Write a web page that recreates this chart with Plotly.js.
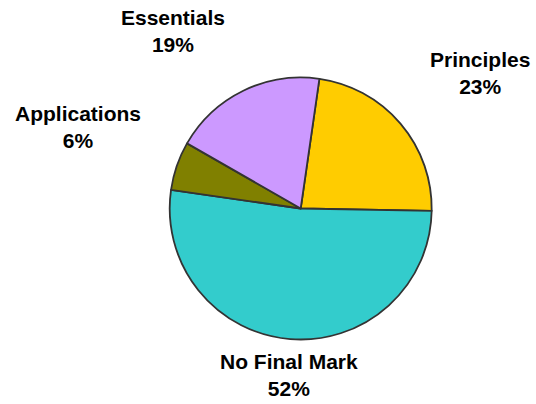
<!DOCTYPE html>
<html>
<head>
<meta charset="utf-8">
<script src="https://cdn.plot.ly/plotly-3.0.1.min.js"></script>
<style>html,body{margin:0;padding:0;background:#fff;}#chart{width:536px;height:404px;}</style>
</head>
<body>
<div id="chart"></div>
<script>
var categories = ["Principles", "No Final Mark", "Applications", "Essentials"];
var values = [23, 52, 6, 19];
var colors = ["#FFCC00", "#33CCCC", "#808000", "#CC99FF"];

var W = 536, H = 404;
var cx = 300.7, cy = 208.5, R = 131;   // pie centre and radius in px
var rotation = 8.2;
var font = {family: "Liberation Sans, Arial, sans-serif", size: 21, color: "#000", weight: "bold"};

var total = values.reduce(function(a, b){ return a + b; }, 0);
var annotations = [];
var cum = 0;
for (var i = 0; i < values.length; i++) {
  var frac = values[i] / total;
  var mid = (rotation + (cum + frac / 2) * 360) * Math.PI / 180;
  cum += frac;
  var s = Math.sin(mid), c = Math.cos(mid);
  var xa = s > 0.25 ? "left" : (s < -0.25 ? "right" : "center");
  var ya = c > 0.25 ? "bottom" : (c < -0.25 ? "top" : "middle");
  var corner = (xa !== "center" && ya !== "middle");
  var d = R + (corner ? 36 : 9);
  var px = cx + d * s, py = cy - d * c;
  annotations.push({
    xref: "paper", yref: "paper",
    x: px / W, y: 1 - py / H,
    xanchor: xa, yanchor: ya,
    text: categories[i] + "<br>" + Math.round(frac * 100) + "%",
    showarrow: false, font: font, align: "center"
  });
}

var trace = {
  type: "pie",
  labels: categories,
  values: values,
  sort: false,
  direction: "clockwise",
  rotation: rotation,
  textinfo: "none",
  hoverinfo: "label+percent",
  marker: {colors: colors, line: {color: "#333", width: 1.8}},
  domain: {x: [(cx - R) / W, (cx + R) / W], y: [(H - cy - R) / H, (H - cy + R) / H]}
};

var layout = {
  width: W, height: H,
  margin: {l: 0, r: 0, t: 0, b: 0},
  showlegend: false,
  paper_bgcolor: "#fff",
  annotations: annotations
};

Plotly.newPlot("chart", [trace], layout, {displayModeBar: false, staticPlot: true});
</script>
</body>
</html>
